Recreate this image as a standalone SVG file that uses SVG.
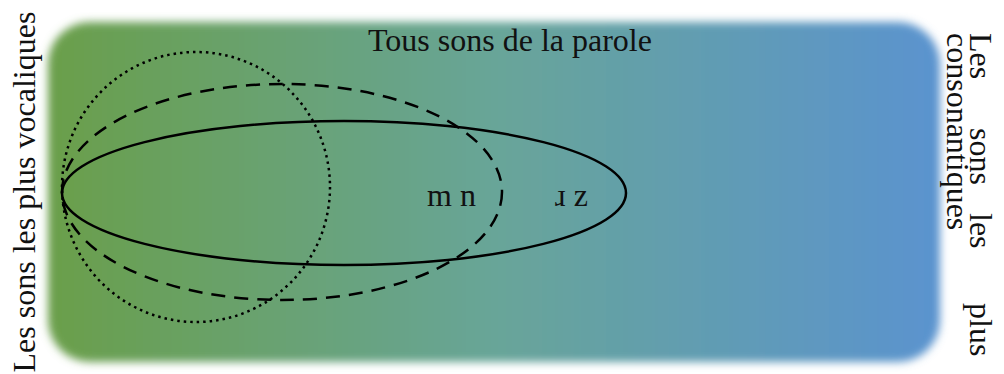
<svg xmlns="http://www.w3.org/2000/svg" width="1004" height="374" viewBox="0 0 1004 374">
<style>
text{font-family:"Liberation Serif","Times New Roman",serif;fill:#111;font-size:32px}
.ell{fill:none;stroke:#000;stroke-width:2.5}
</style>
<defs>
<linearGradient id="bg" x1="0" y1="0" x2="1" y2="0">
<stop offset="0" stop-color="#6a9f4a"/>
<stop offset="0.5" stop-color="#68a598"/>
<stop offset="1" stop-color="#5a93cf"/>
</linearGradient>
<filter id="soft" x="-5%" y="-10%" width="110%" height="120%"><feGaussianBlur stdDeviation="4.5"/></filter>
</defs>
<rect width="1004" height="374" fill="#fff"/>
<g id="field">
<rect x="48" y="22" width="892" height="340" rx="42" ry="42" fill="url(#bg)" filter="url(#soft)"/>
</g>
<g id="connectors">
<ellipse id="solid" class="ell" cx="344" cy="193" rx="282" ry="72"/>
<ellipse id="dashed" class="ell" cx="282" cy="192" rx="220" ry="108" stroke-dasharray="14 9"/>
<ellipse id="dotted" class="ell" cx="196" cy="187" rx="134" ry="135" stroke-dasharray="2.5 4"/>
</g>
<g id="title"><text x="510" y="51" text-anchor="middle">Tous sons de la parole</text></g>
<g id="labels">
<text x="427" y="206" font-size="31">m n</text>
<text x="555" y="206" font-size="31">ɹ z</text>
</g>
<g id="left"><text transform="translate(35,192) rotate(-90)" text-anchor="middle">Les sons les plus vocaliques</text></g>
<g id="right">
<text transform="translate(970,33) rotate(90)">Les</text>
<text transform="translate(970,128) rotate(90)">sons</text>
<text transform="translate(970,213) rotate(90)">les</text>
<text transform="translate(970,303) rotate(90)">plus</text>
<text transform="translate(947,33) rotate(90)">consonantiques</text>
</g>
</svg>
